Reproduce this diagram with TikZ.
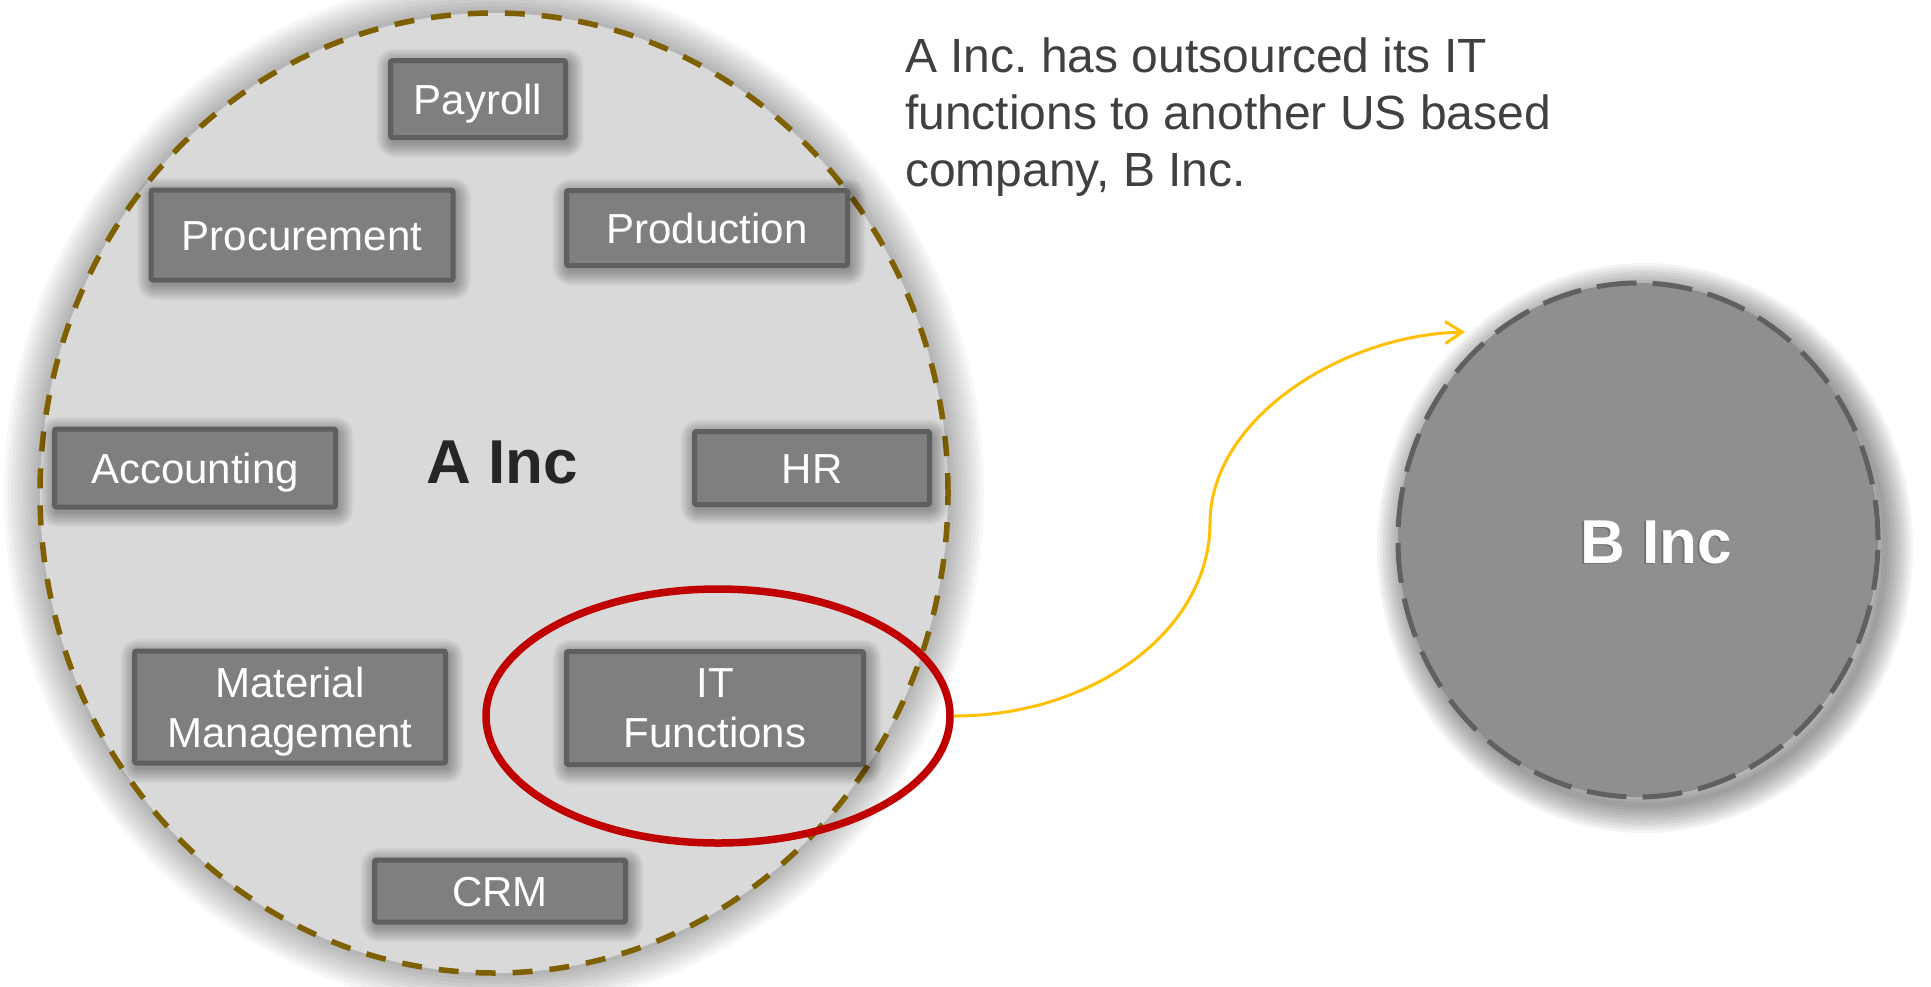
\documentclass[tikz,border=0pt]{standalone}
\usepackage{fontspec}
\setmainfont{Liberation Sans}
\frenchspacing
\usetikzlibrary{shapes.geometric,arrows.meta}

\definecolor{areafill}{HTML}{D9D9D9}
\definecolor{olivedash}{RGB}{127,96,0}
\definecolor{boxfill}{HTML}{7F7F7F}
\definecolor{boxline}{HTML}{5F5F5F}
\definecolor{bfill}{HTML}{8F8F8F}
\definecolor{bline}{HTML}{606060}
\definecolor{ringred}{HTML}{C00000}
\definecolor{arrowgold}{HTML}{FFC000}
\definecolor{notegray}{HTML}{404040}
\definecolor{titledark}{HTML}{262626}

\tikzset{
  % one translucent stroke of a soft halo
  halolayer/.style n args={4}{preaction={draw=black, draw opacity=#2, line width=#1,
      solid, fill=none, line join=round, transform canvas={shift={(#3,#4)}}}},
  % soft halo: width, opacity per layer, xshift, yshift
  halo/.style n args={4}{
    halolayer={2.00*#1}{#2}{#3}{#4}, halolayer={1.80*#1}{#2}{#3}{#4},
    halolayer={1.60*#1}{#2}{#3}{#4}, halolayer={1.40*#1}{#2}{#3}{#4},
    halolayer={1.20*#1}{#2}{#3}{#4}, halolayer={1.00*#1}{#2}{#3}{#4},
    halolayer={0.80*#1}{#2}{#3}{#4}, halolayer={0.60*#1}{#2}{#3}{#4},
    halolayer={0.40*#1}{#2}{#3}{#4}, halolayer={0.20*#1}{#2}{#3}{#4}},
  unitbox/.style={draw=boxline, fill=boxfill, line width=5pt, rounded corners=2pt,
    text=white, font=\fontsize{42}{50}\selectfont, align=center, inner sep=0pt,
    text depth=0pt, halo={16pt}{0.035}{2pt}{-4pt}},
  oneline/.style={text height=30pt},
  company/.style={ellipse, inner sep=0pt},
  bigtitle/.style={font=\bfseries\fontsize{62}{70}\selectfont, inner sep=0pt},
  outsource/.style={draw=arrowgold, line width=3pt,
    -{Straight Barb[length=17pt, width=22pt, line width=3pt]}},
}

\begin{document}
\begin{tikzpicture}[x=1pt, y=-1pt]
  \useasboundingbox (0,0) rectangle (1931,986);
  \fill[white] (0,0) rectangle (1931,986);

  % company A
  \node[company, minimum width=908pt, minimum height=960pt, fill=areafill,
        draw=olivedash, line width=5.5pt, dash pattern=on 20pt off 17pt,
        halo={36pt}{0.03}{0pt}{0pt}]
        (A) at (494,493) {};

  % company B
  \node[company, minimum width=480pt, minimum height=514pt, fill=bfill,
        draw=bline, line width=5pt, dash pattern=on 40pt off 16pt,
        halo={28pt}{0.045}{7pt}{-8pt}]
        (B) at (1638,540) {};

  % departments of A
  \node[unitbox, oneline, minimum width=175pt, minimum height=77pt] (payroll) at (478,99) {Payroll};
  \node[unitbox, oneline, minimum width=302pt, minimum height=90pt] (procurement) at (302,235) {Procurement};
  \node[unitbox, oneline, minimum width=281pt, minimum height=75pt] (production) at (707,228) {Production};
  \node[unitbox, oneline, minimum width=281pt, minimum height=78pt] (accounting) at (195,468) {Accounting};
  \node[unitbox, oneline, minimum width=235pt, minimum height=73pt] (hr) at (812,468) {HR};
  \node[unitbox, minimum width=311pt, minimum height=112pt] (material) at (290,707) {Material\\Management};
  \node[unitbox, minimum width=297pt, minimum height=113pt] (it) at (715,708) {IT\\Functions};
  \node[unitbox, oneline, minimum width=251pt, minimum height=62pt] (crm) at (500,891) {CRM};

  % titles
  \node[bigtitle, text=titledark] (alabel) at (502,462) {A Inc};
  \node[bigtitle, text=black!55] (bshade) at (1654.5,543.5) {B Inc};
  \node[bigtitle, text=white] (blabel) at (1656,542) {B Inc};

  % note
  \node[anchor=north west, inner sep=0pt, align=left, text=notegray,
        font=\fontsize{48}{57}\selectfont] (note) at (905,37.5)
        {A Inc. has outsourced its IT\\functions to another US based\\company, B Inc.};

  % highlight ring round the IT functions
  \node[company, minimum width=464pt, minimum height=254pt, draw=ringred, line width=7.5pt]
        (itring) at (718,716) {};

  % outsourcing arrow
  \coordinate (bend) at (1210,523);
  \coordinate (tip) at (1465,332);
  \draw[outsource] (itring.east) .. controls +(140,0) and +(0,107) .. (bend)
                   .. controls +(0,-103) and +(-125,3) .. (tip);
\end{tikzpicture}
\end{document}
